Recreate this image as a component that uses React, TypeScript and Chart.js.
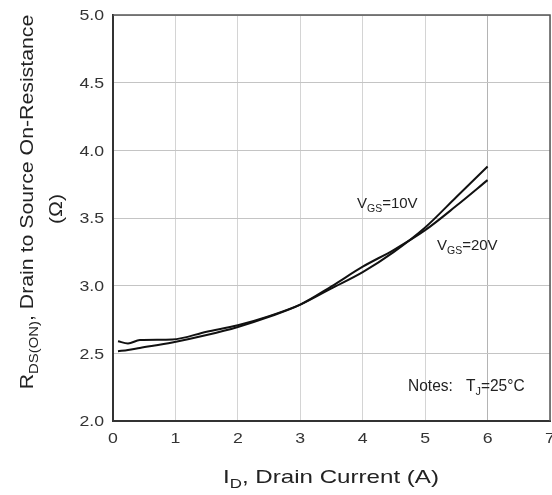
import React, { useEffect, useRef } from "react";
import { Chart, registerables } from "chart.js";

Chart.register(...registerables);

// I_D (A) sample points
const CURRENT_A = [0.08, 0.24, 0.43, 0.95, 1.5, 2, 2.5, 3, 3.5, 4, 4.5, 5, 5.5, 6];
const RDS_VGS10 = [2.59, 2.573, 2.598, 2.602, 2.66, 2.708, 2.775, 2.86, 2.98, 3.1, 3.25, 3.43, 3.655, 3.88];
const RDS_VGS20 = [2.515, 2.525, 2.54, 2.58, 2.635, 2.695, 2.77, 2.86, 2.995, 3.14, 3.265, 3.41, 3.59, 3.78];

const X_TICKS = [0, 1, 2, 3, 4, 5, 6, 7];
const Y_TICKS = [2.0, 2.5, 3.0, 3.5, 4.0, 4.5, 5.0];

const FONT = '"Liberation Sans", Arial, sans-serif';

type Run = { text: string; sub?: boolean };

// draws a line of text with optional subscript runs, stretched by sx along the text
function drawRuns(
  ctx: CanvasRenderingContext2D,
  runs: Run[],
  x: number,
  y: number,
  size: number,
  align: "left" | "center" | "right",
  sx = 1,
  rotate = 0,
  color = "#222"
) {
  ctx.save();
  ctx.translate(x, y);
  if (rotate) ctx.rotate(rotate);
  ctx.scale(sx, 1);
  ctx.fillStyle = color;
  ctx.textBaseline = "alphabetic";
  ctx.textAlign = "left";
  const widths = runs.map((r) => {
    ctx.font = `${r.sub ? size * 0.7 : size}px ${FONT}`;
    return ctx.measureText(r.text).width;
  });
  const total = widths.reduce((a, b) => a + b, 0);
  let cx = align === "left" ? 0 : align === "center" ? -total / 2 : -total;
  runs.forEach((r, i) => {
    ctx.font = `${r.sub ? size * 0.7 : size}px ${FONT}`;
    ctx.fillText(r.text, cx, r.sub ? size * 0.28 : 0);
    cx += widths[i];
  });
  ctx.restore();
}

const labelsPlugin = {
  id: "labels",
  beforeDatasetsDraw(chart: any) {
    const { ctx, chartArea: a } = chart;
    ctx.save();
    ctx.strokeStyle = "#555";
    ctx.lineWidth = 1.5;
    ctx.beginPath();
    ctx.moveTo(a.left, a.top);
    ctx.lineTo(a.right, a.top);
    ctx.lineTo(a.right, a.bottom);
    ctx.stroke();
    ctx.restore();
  },
  afterDraw(chart: any) {
    const { ctx, chartArea: a, scales } = chart;
    const xs = scales.x;
    const ys = scales.y;

    Y_TICKS.forEach((v) => {
      drawRuns(ctx, [{ text: v.toFixed(1) }], a.left - 9, ys.getPixelForValue(v) + 5.4, 15, "right", 1.18, 0, "#333");
    });
    X_TICKS.forEach((v) => {
      drawRuns(ctx, [{ text: String(v) }], xs.getPixelForValue(v), a.bottom + 22, 15, "center", 1.18, 0, "#333");
    });

    drawRuns(
      ctx,
      [{ text: "I" }, { text: "D", sub: true }, { text: ", Drain Current (A)" }],
      331,
      483,
      19,
      "center",
      1.27
    );
    drawRuns(
      ctx,
      [{ text: "R" }, { text: "DS(ON)", sub: true }, { text: ", Drain to Source On-Resistance" }],
      33,
      202,
      19,
      "center",
      1.12,
      -Math.PI / 2
    );
    drawRuns(ctx, [{ text: "(Ω)" }], 62, 209, 19, "center", 1.12, -Math.PI / 2);

    drawRuns(ctx, [{ text: "V" }, { text: "GS", sub: true }, { text: "=10V" }], 357, 208, 15, "left", 1.0);
    drawRuns(ctx, [{ text: "V" }, { text: "GS", sub: true }, { text: "=20V" }], 437, 250, 15, "left", 1.0);
    drawRuns(ctx, [{ text: "Notes:" }], 408, 391, 16, "left", 0.97);
    drawRuns(ctx, [{ text: "T" }, { text: "J", sub: true }, { text: "=25°C" }], 466, 391, 16, "left", 0.97);
  },
};

export default function App() {
  const canvasRef = useRef<HTMLCanvasElement>(null);
  const chartRef = useRef<Chart | null>(null);

  useEffect(() => {
    if (!canvasRef.current) return;
    if (chartRef.current) chartRef.current.destroy();

    const toPoints = (ys: number[]) => CURRENT_A.map((x, i) => ({ x, y: ys[i] }));

    chartRef.current = new Chart(canvasRef.current, {
      type: "line",
      data: {
        datasets: [
          {
            label: "VGS=10V",
            data: toPoints(RDS_VGS10),
            borderColor: "#111",
            borderWidth: 2,
            pointRadius: 0,
            cubicInterpolationMode: "monotone",
            fill: false,
          },
          {
            label: "VGS=20V",
            data: toPoints(RDS_VGS20),
            borderColor: "#111",
            borderWidth: 2,
            pointRadius: 0,
            cubicInterpolationMode: "monotone",
            fill: false,
          },
        ],
      },
      options: {
        animation: false,
        responsive: true,
        maintainAspectRatio: false,
        layout: { padding: { left: 0, top: 15, right: 2, bottom: 0 } },
        plugins: {
          legend: { display: false },
          tooltip: { enabled: false },
        },
        scales: {
          x: {
            type: "linear",
            min: 0,
            max: 7,
            afterBuildTicks: (s: any) => {
              s.ticks = X_TICKS.map((value) => ({ value }));
            },
            afterFit: (s: any) => {
              s.height = 74;
            },
            ticks: { display: false },
            grid: {
              drawTicks: false,
              color: (c: any) => (c.tick && c.tick.value === 6 ? "#b4b4b4" : "#d4d4d4"),
              lineWidth: 1,
            },
            border: { color: "#333", width: 2 },
          },
          y: {
            type: "linear",
            min: 2,
            max: 5,
            afterBuildTicks: (s: any) => {
              s.ticks = Y_TICKS.map((value) => ({ value }));
            },
            afterFit: (s: any) => {
              s.width = 113;
            },
            ticks: { display: false },
            grid: { drawTicks: false, color: "#c4c4c4", lineWidth: 1 },
            border: { color: "#333", width: 2 },
          },
        },
      },
      plugins: [labelsPlugin],
    });

    return () => {
      chartRef.current?.destroy();
      chartRef.current = null;
    };
  }, []);

  return (
    <div style={{ position: "absolute", left: 0, top: 0, width: 552, height: 495, background: "#fff" }}>
      <canvas ref={canvasRef} role="img" aria-label="Drain to source on-resistance vs drain current" />
    </div>
  );
}
